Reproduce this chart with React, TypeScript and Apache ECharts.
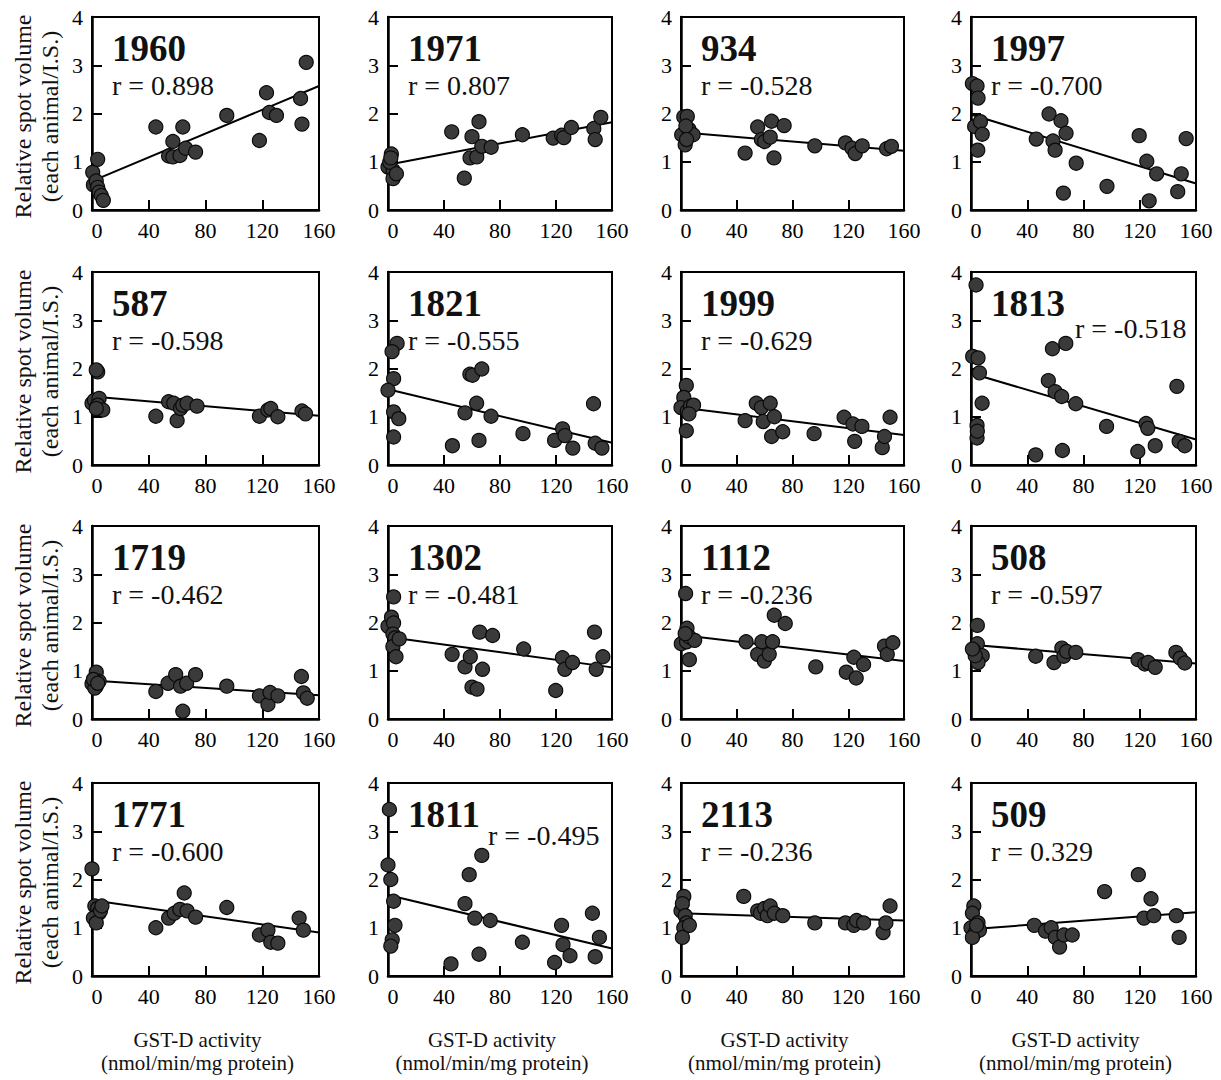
import React, { useEffect, useRef } from 'react';
import * as echarts from 'echarts';

// Spot identifiers and their correlation coefficients, row by row
const SPOT_IDS = ['1960', '1971', '934', '1997', '587', '1821', '1999', '1813', '1719', '1302', '1112', '508', '1771', '1811', '2113', '509'];
const R_VALUES = ['0.898', '0.807', '-0.528', '-0.700', '-0.598', '-0.555', '-0.629', '-0.518', '-0.462', '-0.481', '-0.236', '-0.597', '-0.600', '-0.495', '-0.236', '0.329'];

const X_TICKS = [0, 40, 80, 120, 160];
const Y_TICKS = [0, 1, 2, 3, 4];

const Y_TITLE = ['Relative spot volume', '(each animal/I.S.)'];
const X_TITLE = ['GST-D activity', '(nmol/min/mg protein)'];

// [GST-D activity, relative spot volume] for each animal
const spot1960 = [[0.5, 0.78], [4, 1.05], [1, 0.52], [3, 0.6], [4, 0.47], [5, 0.37], [6.5, 0.3], [8, 0.2], [45, 1.72], [54, 1.12], [57, 1.1], [57, 1.42], [62, 1.13], [64, 1.72], [66, 1.28], [73, 1.2], [95, 1.96], [118, 1.44], [123, 2.43], [125, 2.02], [130, 1.96], [147, 2.31], [148, 1.78], [151, 3.06]];
const spot1971 = [[2.4, 1.16], [0, 0.89], [3.6, 0.82], [3.6, 0.65], [1.2, 0.99], [6, 0.75], [2, 1.08], [45.5, 1.62], [54.5, 0.66], [58.6, 1.08], [60, 1.52], [63.4, 1.1], [65, 1.83], [67, 1.32], [73.7, 1.3], [96, 1.56], [118, 1.49], [124, 1.55], [125.6, 1.5], [131, 1.71], [147, 1.69], [148, 1.46], [152, 1.92]];
const spot934 = [[2, 1.93], [4.5, 1.94], [0.5, 1.56], [3, 1.35], [5.7, 1.67], [8.7, 1.56], [3.5, 1.74], [4, 1.46], [46, 1.18], [55, 1.72], [57.7, 1.46], [60, 1.42], [64, 1.51], [65, 1.84], [66.7, 1.08], [74, 1.75], [96, 1.33], [118, 1.39], [122.7, 1.28], [125, 1.17], [130, 1.33], [147.5, 1.27], [151, 1.32]];
const spot1997 = [[1, 2.62], [4.3, 2.57], [5, 2.32], [2.6, 1.73], [6.7, 1.83], [8, 1.57], [4.8, 1.24], [46.4, 1.47], [55.5, 1.99], [58.3, 1.43], [59.8, 1.24], [64, 1.85], [65.7, 0.35], [67.6, 1.59], [74.8, 0.97], [96.7, 0.49], [119.6, 1.54], [125, 1.01], [126.7, 0.19], [132, 0.75], [147, 0.38], [149.5, 0.75], [153, 1.48]];
const spot587 = [[4, 1.93], [3, 1.97], [0, 1.28], [1.7, 1.34], [5, 1.38], [4, 1.24], [7.6, 1.14], [3, 1.17], [45, 1.01], [54, 1.31], [57.6, 1.28], [60, 0.92], [62.4, 1.17], [64, 1.24], [67, 1.28], [74, 1.22], [118, 1.01], [124, 1.14], [126, 1.17], [131, 1.0], [148, 1.12], [150.5, 1.06]];
const spot1821 = [[6.5, 2.52], [2.9, 2.35], [4, 1.79], [0, 1.55], [4, 1.1], [7.7, 0.96], [4, 0.58], [46, 0.4], [55, 1.08], [58.5, 1.88], [60.4, 1.86], [63.3, 1.28], [65, 0.51], [67, 1.99], [73.6, 1.01], [96.4, 0.65], [119, 0.51], [124.7, 0.75], [126.4, 0.61], [132, 0.35], [146.8, 1.27], [148, 0.45], [152.8, 0.35]];
const spot1999 = [[3.8, 1.65], [2, 1.4], [0, 1.19], [4.5, 1.11], [6.9, 1.22], [9, 1.24], [3.8, 0.71], [5.7, 1.06], [46, 0.92], [54, 1.28], [57.7, 1.19], [59, 0.9], [64, 1.28], [65, 0.59], [67, 1.0], [73, 0.69], [95.5, 0.65], [117, 0.99], [123.4, 0.85], [124.6, 0.49], [129.8, 0.8], [144.4, 0.36], [146, 0.59], [150, 0.99]];
const spot1813 = [[3.6, 3.73], [1.2, 2.25], [5, 2.22], [6, 1.91], [7.9, 1.28], [4.3, 0.82], [4.3, 0.56], [4.5, 0.7], [46, 0.21], [55, 1.75], [57.9, 2.41], [59.8, 1.52], [64.5, 1.42], [65, 0.3], [67.4, 2.52], [74.5, 1.27], [96.4, 0.8], [118.6, 0.28], [124.5, 0.86], [125.7, 0.76], [131, 0.4], [146.4, 1.63], [148, 0.49], [152, 0.4]];
const spot1719 = [[3, 0.97], [0, 0.73], [3, 0.68], [5, 0.78], [2, 0.64], [1, 0.82], [4, 0.74], [45, 0.57], [53.6, 0.74], [59, 0.92], [62.4, 0.68], [64, 0.16], [66.7, 0.74], [73, 0.92], [95, 0.68], [118, 0.48], [124, 0.3], [125.5, 0.55], [131, 0.48], [147.6, 0.88], [149, 0.54], [151.7, 0.43]];
const spot1302 = [[4, 2.53], [0, 1.92], [2.5, 2.11], [4, 1.99], [3.5, 1.76], [5, 1.68], [3.5, 1.5], [8, 1.66], [5.7, 1.29], [45.8, 1.34], [55, 1.08], [58.8, 1.29], [60, 0.66], [63.6, 0.62], [65.5, 1.8], [67.5, 1.03], [74.7, 1.73], [96.9, 1.45], [119.8, 0.59], [124.6, 1.27], [126.3, 1.03], [131.8, 1.17], [147.5, 1.8], [148.7, 1.03], [153.5, 1.29]];
const spot1112 = [[3.3, 2.6], [4.3, 1.88], [0.2, 1.56], [4, 1.6], [6, 1.7], [9.8, 1.63], [6, 1.23], [3, 1.77], [46.7, 1.6], [55, 1.34], [58, 1.6], [59.8, 1.2], [63.3, 1.34], [65.7, 1.6], [66.9, 2.15], [74.8, 1.98], [96.7, 1.08], [118.6, 0.97], [124, 1.28], [125.7, 0.85], [131, 1.13], [146, 1.51], [148, 1.34], [152, 1.58]];
const spot508 = [[4.5, 1.94], [4.5, 1.56], [2, 1.42], [8, 1.31], [5, 1.17], [3, 1.31], [1, 1.45], [46, 1.3], [59, 1.17], [64.6, 1.47], [66, 1.3], [68, 1.4], [74.5, 1.38], [118.8, 1.23], [123.6, 1.14], [126, 1.17], [131, 1.07], [145.7, 1.38], [148.8, 1.26], [152, 1.16]];
const spot1771 = [[0, 2.22], [2, 1.45], [4, 1.4], [5, 1.3], [1, 1.2], [3, 1.1], [6, 1.35], [7, 1.45], [45, 1.0], [54, 1.2], [58, 1.3], [62, 1.38], [65, 1.72], [67, 1.35], [73, 1.22], [95, 1.42], [118, 0.85], [124, 0.95], [126, 0.7], [131, 0.68], [146, 1.2], [149, 0.95]];
const spot1811 = [[1, 3.45], [0, 2.3], [2, 2.0], [4, 1.55], [5, 1.05], [3, 0.75], [2, 0.62], [45, 0.25], [55, 1.5], [58, 2.1], [62, 1.2], [65, 0.45], [67, 2.5], [73, 1.15], [96, 0.7], [119, 0.28], [124, 1.05], [125, 0.65], [130, 0.42], [146, 1.3], [148, 0.4], [151, 0.8]];
const spot2113 = [[2, 1.65], [0, 1.35], [1, 1.5], [3, 1.25], [4, 1.1], [2, 1.0], [1, 0.8], [6, 1.05], [45, 1.65], [55, 1.35], [57, 1.3], [60, 1.4], [62, 1.25], [64, 1.45], [67, 1.3], [73, 1.25], [96, 1.1], [118, 1.1], [124, 1.05], [126, 1.15], [131, 1.1], [145, 0.9], [147, 1.1], [150, 1.45]];
const spot509 = [[2, 1.45], [1, 1.3], [0, 1.0], [3, 0.9], [5, 1.1], [6, 0.95], [1, 0.8], [4, 1.05], [45, 1.05], [53, 0.93], [57, 1.0], [60, 0.8], [63, 0.6], [66, 0.85], [72, 0.85], [95, 1.75], [119, 2.1], [123, 1.2], [128, 1.6], [130, 1.25], [146, 1.25], [148, 0.8]];

const SPOTS = [spot1960, spot1971, spot934, spot1997, spot587, spot1821, spot1999, spot1813, spot1719, spot1302, spot1112, spot508, spot1771, spot1811, spot2113, spot509];

// Regression line values at activity 0 and 160
const FIT_START = [0.6, 0.94, 1.61, 1.98, 1.42, 1.57, 1.19, 1.9, 0.8, 1.7, 1.74, 1.54, 1.57, 1.68, 1.3, 0.97];
const FIT_END = [2.57, 1.82, 1.23, 0.55, 1.02, 0.46, 0.62, 0.53, 0.49, 1.07, 1.2, 1.15, 0.9, 0.57, 1.15, 1.32];

// Panel geometry (pixels)
const COL_LEFT = [92, 388, 681, 971];
const COL_WIDTH = [227, 224, 223, 225];
const ROW_TOP = [17, 272, 526, 783];
const ROW_HEIGHT = 193;

const SERIF = '"Liberation Serif", "Times New Roman", serif';

export default function App() {
  const ref = useRef<HTMLDivElement>(null);

  useEffect(() => {
    document.body.style.margin = '0';
    if (!ref.current) return;
    const chart = echarts.init(ref.current, undefined, { renderer: 'svg' });

    const grids: any[] = [];
    const xAxes: any[] = [];
    const yAxes: any[] = [];
    const series: any[] = [];
    const graphics: any[] = [];

    const axisLabelBase = { color: '#000', fontSize: 22, fontFamily: SERIF };

    SPOT_IDS.forEach((id, i) => {
      const row = Math.floor(i / 4);
      const col = i % 4;
      const left = COL_LEFT[col];
      const top = ROW_TOP[row];
      const width = COL_WIDTH[col];

      grids.push({
        left, top, width, height: ROW_HEIGHT,
        show: true, borderColor: '#000', borderWidth: 2, backgroundColor: 'transparent',
      });

      xAxes.push({
        gridIndex: i, type: 'value',
        min: X_TICKS[0], max: X_TICKS[X_TICKS.length - 1], interval: X_TICKS[1] - X_TICKS[0],
        axisLine: { show: true, onZero: false, lineStyle: { color: '#000', width: 2.5 } },
        axisTick: { show: true, inside: true, length: 10, lineStyle: { color: '#000', width: 2 } },
        splitLine: { show: false },
        axisLabel: {
          ...axisLabelBase, margin: 9,
          formatter: (v: number) => (v === 0 ? '{z|0}' : String(v)),
          rich: { z: { ...axisLabelBase, padding: [0, 0, 0, 10] } },
        },
      });

      yAxes.push({
        gridIndex: i, type: 'value',
        min: Y_TICKS[0], max: Y_TICKS[Y_TICKS.length - 1], interval: Y_TICKS[1] - Y_TICKS[0],
        axisLine: { show: true, onZero: false, lineStyle: { color: '#000', width: 2.5 } },
        axisTick: { show: true, inside: true, length: 10, lineStyle: { color: '#000', width: 2 } },
        splitLine: { show: false },
        axisLabel: { ...axisLabelBase, margin: 9 },
      });

      series.push({
        type: 'line', xAxisIndex: i, yAxisIndex: i,
        data: [[X_TICKS[0], FIT_START[i]], [X_TICKS[X_TICKS.length - 1], FIT_END[i]]],
        symbol: 'none', lineStyle: { color: '#000', width: 2 }, silent: true, z: 2,
      });
      series.push({
        type: 'scatter', xAxisIndex: i, yAxisIndex: i,
        data: SPOTS[i], symbol: 'circle', symbolSize: 14, clip: false,
        itemStyle: { color: '#3a3a3a', borderColor: '#0a0a0a', borderWidth: 1.2, opacity: 1 },
        z: 3,
      });

      // Spot number and correlation coefficient
      graphics.push({
        type: 'text', x: left + 20, y: top + 31, z: 10,
        style: { text: id, font: `bold 37px ${SERIF}`, fill: '#111', verticalAlign: 'middle', align: 'left' },
      });
      let rx = left + 20;
      let ry = top + 68;
      if (id === '1813') { rx = left + 104; ry = top + 56; }
      if (id === '1811') { rx = left + 100; ry = top + 52; }
      graphics.push({
        type: 'text', x: rx, y: ry, z: 10,
        style: { text: `r = ${R_VALUES[i]}`, font: `28px ${SERIF}`, fill: '#111', verticalAlign: 'middle', align: 'left' },
      });

      // Axis titles: y on the first column, x under the last row
      if (col === 0) {
        const cy = top + ROW_HEIGHT / 2 + 3;
        [23, 50].forEach((cx, k) => {
          graphics.push({
            type: 'text', x: cx, y: cy, rotation: Math.PI / 2,
            style: { text: Y_TITLE[k], font: `24px ${SERIF}`, fill: '#111', align: 'center', verticalAlign: 'middle' },
          });
        });
      }
      if (row === 3) {
        const cx = left + width / 2 - 8;
        [1040, 1063].forEach((cy, k) => {
          graphics.push({
            type: 'text', x: cx, y: cy,
            style: { text: X_TITLE[k], font: `21px ${SERIF}`, fill: '#111', align: 'center', verticalAlign: 'middle' },
          });
        });
      }
    });

    chart.setOption({
      animation: false,
      backgroundColor: '#fff',
      grid: grids,
      xAxis: xAxes,
      yAxis: yAxes,
      series,
      graphic: graphics,
    });

    return () => chart.dispose();
  }, []);

  return <div ref={ref} style={{ width: 1221, height: 1080 }} />;
}
